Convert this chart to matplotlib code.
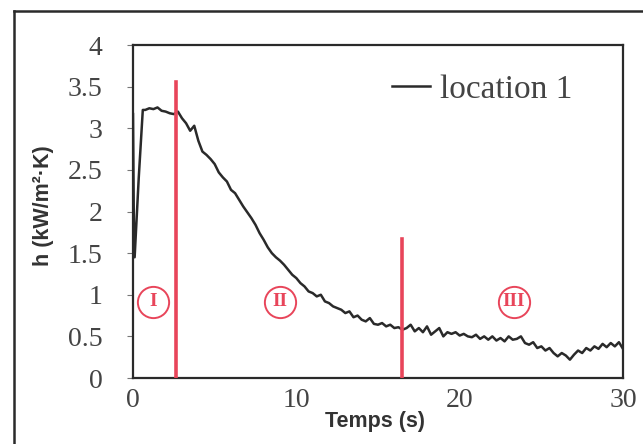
import numpy as np
import matplotlib
matplotlib.use("Agg")
import matplotlib.pyplot as plt
from matplotlib.lines import Line2D

# ---- data ----
t_start = [0.0, 0.05, 0.1, 0.35, 0.6]
h_start = [3.17, 1.9, 1.45, 2.4, 3.22]
h_main = [3.22, 3.24, 3.23, 3.25, 3.21, 3.2, 3.18, 3.17, 3.2, 3.12,
          3.06, 2.97, 3.03, 2.85, 2.72, 2.68, 2.63, 2.57, 2.47, 2.41,
          2.36, 2.26, 2.22, 2.14, 2.06, 1.99, 1.92, 1.84, 1.74, 1.66,
          1.57, 1.5, 1.45, 1.41, 1.36, 1.3, 1.24, 1.2, 1.14, 1.1,
          1.04, 1.02, 0.98, 1.0, 0.92, 0.9, 0.86, 0.84, 0.82, 0.78,
          0.8, 0.73, 0.75, 0.7, 0.68, 0.72, 0.65, 0.64, 0.66, 0.62,
          0.64, 0.6, 0.61, 0.58, 0.6, 0.64, 0.56, 0.6, 0.55, 0.62,
          0.52, 0.56, 0.6, 0.5, 0.55, 0.53, 0.55, 0.51, 0.53, 0.5,
          0.49, 0.52, 0.47, 0.5, 0.46, 0.5, 0.45, 0.48, 0.44, 0.5,
          0.46, 0.47, 0.5, 0.42, 0.4, 0.43, 0.36, 0.38, 0.33, 0.36,
          0.3, 0.26, 0.3, 0.27, 0.22, 0.28, 0.33, 0.3, 0.36, 0.33,
          0.38, 0.35, 0.41, 0.37, 0.42, 0.38, 0.43, 0.35]
t_main = list(np.arange(len(h_main)) * 0.25 + 0.75)
t_vals = t_start + t_main
h_vals = h_start + h_main

phase_bounds = [2.62, 16.45]
phase_tops = [3.56, 1.67]
phase_labels = ["I", "II", "III"]
phase_label_x = [1.22, 9.0, 23.33]
phase_label_y = 0.915

xticks = [0, 10, 20, 30]
yticks = [0, 0.5, 1, 1.5, 2, 2.5, 3, 3.5, 4]
ytick_labels = ["0", "0.5", "1", "1.5", "2", "2.5", "3", "3.5", "4"]

red = "#e8455a"
ink = "#2a2a2a"

fig = plt.figure(figsize=(6.43, 4.44), dpi=100)
ax = fig.add_axes([133/643, 1-378/444, (623-133)/643, (378-45)/444])

ax.plot(t_vals, h_vals, color=ink, lw=1.8, label="location 1", zorder=3)
for xb, top in zip(phase_bounds, phase_tops):
    ax.plot([xb, xb], [0, top], color=red, lw=2.6, zorder=4)
for lab, lx in zip(phase_labels, phase_label_x):
    ax.plot([lx], [phase_label_y], marker="o", ms=22.5, mfc="white", mec=red,
            mew=1.4, zorder=5, linestyle="none")
    ax.text(lx, phase_label_y, lab, color=red, ha="center", va="center",
            family="Liberation Serif", fontweight="bold", fontsize=14,
            zorder=6)

ax.set_xlim(0, 30)
ax.set_ylim(0, 4)
ax.set_xticks(xticks)
ax.set_yticks(yticks)
ax.set_yticklabels(ytick_labels)
ax.tick_params(axis="both", labelsize=20, colors="#777777", labelcolor="#444444")
ax.tick_params(axis="x", length=0, pad=7)
ax.tick_params(axis="y", length=4, width=0.8, pad=18)
for lbl in ax.get_xticklabels() + ax.get_yticklabels():
    lbl.set_family("Liberation Serif")
for s in ax.spines.values():
    s.set_color(ink)
    s.set_linewidth(1.6)

ax.set_xlabel("Temps (s)", family="Liberation Sans", fontweight="bold",
              fontsize=15.5, color="#333333", va="center")
ax.xaxis.set_label_coords((375-133)/490, (378-422)/333)
ax.set_ylabel("h (kW/m²·K)", family="Liberation Sans", fontweight="bold",
              fontsize=15.5, color="#333333", va="center")
ax.yaxis.set_label_coords((43-133)/490, (378-206)/333)

leg = ax.legend(loc="upper left", frameon=False, handlelength=1.15,
                handletextpad=0.3, borderpad=0, borderaxespad=0,
                prop={"family": "Liberation Serif", "size": 24},
                bbox_to_anchor=((392-133)/490, (378-74)/333))
for txt in leg.get_texts():
    txt.set_color("#444444")

# outer frame of the scanned figure
fig.add_artist(Line2D([14/643, 14/643], [0, 1-11/444], transform=fig.transFigure,
                      color=ink, lw=1.8))
fig.add_artist(Line2D([14/643, 1], [1-11/444, 1-11/444], transform=fig.transFigure,
                      color=ink, lw=1.8))

fig.savefig("out.png", dpi=100)
